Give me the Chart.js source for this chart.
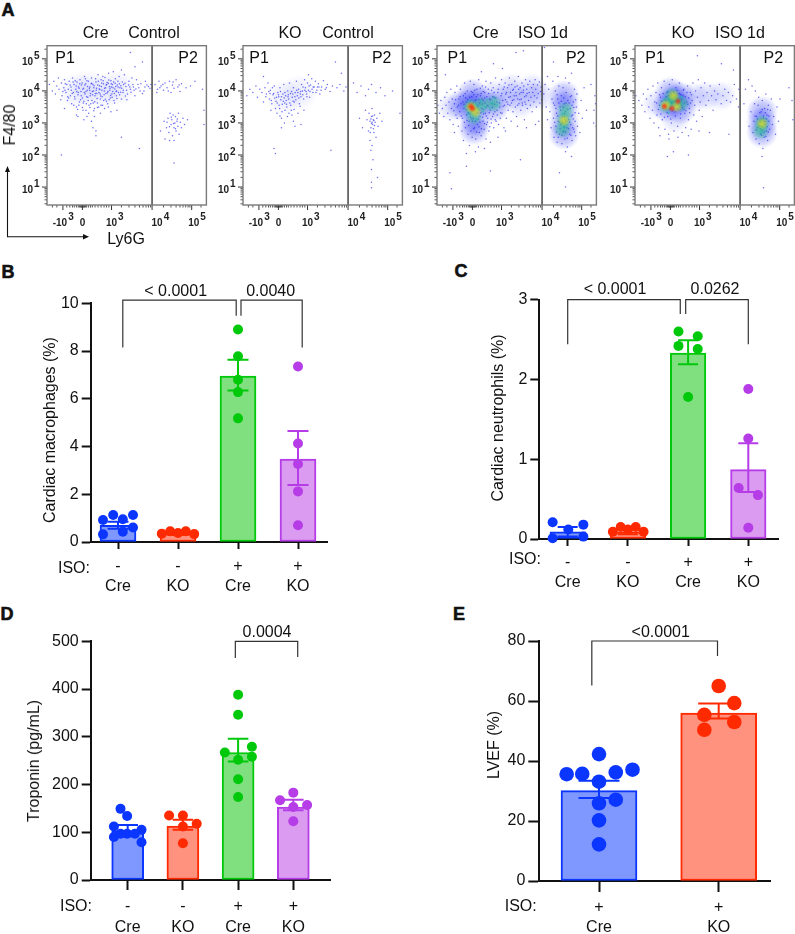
<!DOCTYPE html>
<html>
<head>
<meta charset="utf-8">
<title>Cardiac flow cytometry and bar panels</title>
<script src="https://cdn.jsdelivr.net/npm/chart.js@4"></script>
<style>
  html, body { margin: 0; padding: 0; background: #fff; }
  body { position: relative; width: 795px; height: 934px; overflow: hidden; font-family: "Liberation Sans", Arial, sans-serif; color: #111; }
  canvas { position: absolute; }
  .lbl { position: absolute; white-space: nowrap; line-height: 1; }
  svg { position: absolute; left: 0; top: 0; }
</style>
</head>
<body>
<svg width="100" height="245">
  <g stroke="#111" stroke-width="1.1" fill="#111">
    <line x1="7.5" y1="237" x2="7.5" y2="171" />
    <line x1="7" y1="236.7" x2="85" y2="236.7" />
    <path d="M7.5 166 L5 172 L10 172 Z" stroke="none" />
    <path d="M89 236.7 L83 234 L83 239.4 Z" stroke="none" />
  </g>
</svg>
<script>
// ── Bar panel data ───────────────────────────────────────────
const fourGroups = ['Cre', 'KO', 'Cre', 'KO']
const fourIso = ['-', '-', '+', '+']
const twoGroups = ['Cre', 'KO']
const twoIso = ['+', '+']

const macMeans = [0.7, 0.35, 6.95, 3.47]
const macHi = [0.85, 0.41, 7.63, 4.65]
const macLo = [0.55, 0.29, 6.35, 2.39]
const macDotX = [-0.25, -0.08, 0.08, 0.25, 0.25, 0.08, -0.25, -0.27, -0.13, 0, 0.13, 0.27, 0, 0, 0, 0, 0, 0, 0, 0, 0, 0]
const macDotY = [0.92, 1.13, 0.95, 1.13, 0.61, 0.43, 0.32, 0.35, 0.45, 0.38, 0.45, 0.33, 8.9, 7.78, 6.8, 6.28, 5.18, 7.35, 4.13, 3.27, 2.12, 0.7]
const macDotGroup = [0, 0, 0, 0, 0, 0, 0, 1, 1, 1, 1, 1, 2, 2, 2, 2, 2, 3, 3, 3, 3, 3]

const neuMeans = [0.09, 0.09, 2.33, 0.87]
const neuHi = [0.15, 0.13, 2.49, 1.2]
const neuLo = [0.03, 0.06, 2.19, 0.59]
const neuDotX = [-0.25, 0.26, 0.01, -0.25, 0.26, -0.25, -0.12, 0, 0.13, 0.26, -0.16, 0.16, -0.16, 0.16, 0, 0, 0, -0.16, 0.16, 0]
const neuDotY = [0.21, 0.18, 0.12, 0.01, 0.03, 0.09, 0.15, 0.12, 0.15, 0.09, 2.6, 2.54, 2.42, 2.38, 1.78, 1.88, 1.26, 0.64, 0.55, 0.14]
const neuDotGroup = [0, 0, 0, 0, 0, 1, 1, 1, 1, 1, 2, 2, 2, 2, 2, 3, 3, 3, 3, 3]

const tropMeans = [103, 113, 267, 153]
const tropHi = [115, 126, 296, 168]
const tropLo = [92, 105, 248, 146]
const tropDotX = [-0.13, -0.01, -0.25, 0.25, -0.25, -0.13, -0.01, 0.13, 0.25, -0.25, 0, 0.25, 0, 0, 0, 0, -0.24, 0.25, 0.25, 0, 0, 0, 0, -0.24, 0.25, 0, 0]
const tropDotY = [149, 134, 112, 105, 90, 97, 97, 97, 79, 135, 135, 118, 112, 77, 388, 346, 267, 279, 258, 252, 211, 174, 183, 167, 157, 153, 123]
const tropDotGroup = [0, 0, 0, 0, 0, 0, 0, 0, 0, 1, 1, 1, 1, 1, 2, 2, 2, 2, 2, 2, 2, 2, 3, 3, 3, 3, 3]

const lvefMeans = [30.1, 56]
const lvefHi = [33.4, 59.2]
const lvefLo = [27.7, 54.2]
const lvefDotX = [0, -0.27, -0.14, 0.14, 0.28, 0, 0.14, 0, 0, 0, 0, 0.13, -0.12, 0.13, -0.12]
const lvefDotY = [42.3, 35.6, 35.7, 36.2, 37.1, 33.1, 27.1, 25.9, 20.2, 12.2, 65, 59.3, 55.4, 53, 50.4]
const lvefDotGroup = [0, 0, 0, 0, 0, 0, 0, 0, 0, 0, 1, 1, 1, 1, 1]

const blue = { line: '#0a36ff', fill: '#7f98ff' }
const red = { line: '#ff2a00', fill: '#ff917f' }
const green = { line: '#00c80a', fill: '#80e080' }
const purple = { line: '#b53ce6', fill: '#da9bf0' }

// ── Flow plot data ───────────────────────────────────────────
// x is the biexponential Ly6G position (0 = zero, 0.97 = 10^3, 2.32 = 10^4, 3.64 = 10^5)
// y is log10(F4/80). Dots and patches are hand placed to follow the visible clouds.
const flowXMajor = [-0.65, 0, 0.97, 2.32, 3.64]
const flowXLabels = ['3', '', '3', '4', '5']
const flowXLabelShift = [0, 0, 3, 8, 5]
const flowXMinor = [-1, -0.85, -0.52, -0.42, -0.33, -0.27, -0.2, -0.14, -0.1, -0.07, -0.05, -0.03, -0.015, 0.015, 0.03, 0.05, 0.07, 0.1, 0.14, 0.2, 0.27, 0.33, 0.42, 0.52, 0.62, 0.72, 0.8, 0.88, 1.3, 1.55, 1.75, 1.9, 2.02, 2.12, 2.2, 2.27, 2.7, 2.95, 3.12, 3.25, 3.35, 3.44, 3.52, 3.58, 3.95]
const flowYMajor = [1, 2, 3, 4, 5]

const creControlDots = [
  -1.1,4.2, -1,4, -0.95,4.3, -0.9,3.9, -0.85,4.15, -0.8,4.4, -0.78,4.05, -0.7,4.25, -0.68,3.85, -0.62,4.1, -0.6,4.35, -0.55,3.95, -0.52,4.2, -0.5,3.7, -0.47,4.05, -0.44,4.3, -0.4,3.85, -0.38,4.12, -0.36,3.6, -0.33,4.4,
  -0.3,3.95, -0.28,4.2, -0.25,3.75, -0.22,4.05, -0.2,3.5, -0.18,4.28, -0.15,3.88, -0.13,4.12, -0.1,3.65, -0.08,4.35, -0.05,3.98, -0.03,4.18, 0,3.78, 0.02,3.4, 0.04,4.08, 0.07,4.45, 0.09,3.9, 0.11,4.22, 0.13,3.6, 0.16,4.02,
  0.18,3.8, 0.2,4.3, 0.22,3.55, 0.25,4.12, 0.27,3.92, 0.3,4.4, 0.32,3.7, 0.35,4.2, 0.37,4, 0.4,3.45, 0.42,3.85, 0.45,4.28, 0.47,4.08, 0.5,3.62, 0.52,4.5, 0.55,3.95, 0.57,4.16, 0.6,3.75, 0.62,4.35, 0.65,4.02,
  0.67,3.55, 0.7,4.22, 0.72,3.88, 0.75,4.42, 0.77,4.1, 0.8,3.68, 0.82,4.26, 0.85,3.98, 0.87,4.55, 0.9,4.14, 0.93,3.78, 0.95,4.32, 0.98,3.9, 1,4.2, 1.03,4.6, 1.05,3.7, 1.08,4.06, 1.1,4.38, 1.13,3.85, 1.16,4.18,
  1.2,3.95, 1.22,4.45, 1.25,4.1, 1.3,3.75, 1.33,4.28, 1.36,4.02, 1.4,4.5, 1.45,4.14, 1.5,3.9, 1.55,4.3, 1.6,4.05, 1.68,4.2, 1.75,3.85, 1.8,4.35, 1.88,4.1, 1.95,4.22, 2.05,4, 2.15,4.18, 2.25,4.08, -0.72,3.72,
  -0.58,4.02, -0.49,3.82, -0.41,4.18, -0.34,3.92, -0.29,3.55, -0.24,4.32, -0.19,3.98, -0.16,3.42, -0.11,4.08, -0.06,3.72, -0.01,4.25, 0.03,3.62, 0.06,3.95, 0.1,4.38, 0.14,3.82, 0.17,4.14, 0.21,3.3, 0.24,4.02, 0.28,3.6, 0.31,4.24,
  0.34,3.88, 0.38,4.1, 0.41,3.66, 0.44,4.38, 0.48,3.92, 0.51,4.18, 0.54,3.5, 0.58,4.04, 0.61,3.84, 0.64,4.25, 0.68,4.45, 0.71,3.7, 0.74,4.08, 0.78,3.92, 0.81,4.2, 0.84,3.6, 0.88,4.34, 0.91,4.02, 0.94,3.86, 0.97,4.12,
  1.01,3.98, 1.04,4.28, 1.07,3.62, 1.11,4.14, 1.14,4, 1.18,4.3, 1.24,3.88, 1.28,4.16, 1.35,3.95, 1.42,4.24, 1.48,3.72, 1.58,4.12, 1.65,4.4, 1.72,4.02, 1.85,4.2, 2,3.92, 2.1,4.3, 2.2,4.14, -0.15,3.2, 0.15,3.2,
  0.4,3.2, -0.6,3.45, 0.05,3.1, 0.3,3.05, 0.6,3.3, 0.95,3.35, 1.15,3.4, -0.2,3.25, 0.35,2.85, 0.45,2.75, 1.3,2.55, 0.45,2.6, 1.9,2.2, -0.7,2, 1.75,4.75, 2,4.9, 1.6,5.2, 1.3,4.65,
  2.42,4.2, 2.5,4.05, 2.55,4.3, 2.62,4.15, 2.7,4.02, 2.75,4.25, 2.82,4.1, 2.9,4.3, 2.95,3.95, 3,4.18, 3.05,4.08, 3.12,4.35, 3.18,4.12, 3.25,3.98, 3.3,4.22, 3.45,4.1, 3.6,4.15, 3.75,4.3, 4,4.05, 4.05,3.4,
  2.72,3.05, 2.8,2.85, 2.85,3.15, 2.88,2.7, 2.92,3.3, 2.95,2.95, 2.98,3.1, 3,2.6, 3.02,3.25, 3.05,2.85, 3.08,3, 3.1,3.2, 3.12,2.75, 3.15,3.05, 3.18,2.9, 3.2,3.3, 3.22,2.65, 3.26,3.02, 3.3,2.85, 3.35,3.15,
  2.75,2.5, 2.9,2.45, 3.05,2.45, 3.4,2.95, 3.5,3.1, 2.6,2.75, 3.05,1.75, 4.05,2.95
]
const creControlExtra = [
  -0.65,3.98, -0.57,4.22, -0.46,3.78, -0.37,4.02, -0.31,4.28, -0.26,3.82, -0.21,4.15, -0.14,3.95, -0.09,4.22, -0.04,3.85, 0.01,4.05, 0.05,3.68, 0.08,4.18, 0.12,3.98, 0.15,4.32, 0.19,3.7, 0.23,4.08, 0.26,3.85, 0.29,4.22, 0.33,3.98,
  0.36,3.62, 0.39,4.16, 0.43,3.92, 0.46,4.02, 0.49,3.76, 0.53,4.3, 0.56,4.06, 0.59,3.9, 0.63,4.14, 0.66,3.82, 0.69,4.32, 0.73,4, 0.76,3.74, 0.79,4.18, 0.83,3.94, 0.86,4.24, 0.89,3.72, 0.92,4.08, 0.96,4.22, 0.99,3.8,
  1.02,4.1, 1.06,3.92, 1.09,4.24, 1.12,3.98, 1.15,3.76, 1.19,4.12, 1.23,4.22, 1.27,3.96, 1.31,4.08, 1.37,4.2, 1.43,3.84, 1.47,4.02, 1.54,4.18, 1.62,3.96, 1.7,4.12, 1.78,4.06, 1.92,4, 2.08,4.12, 2.28,4.2, -0.12,3.55,
  0,3.48, 0.12,3.4, 0.25,3.48, 0.38,3.38, 0.5,3.48, 0.62,3.55, 0.74,3.45, 0.86,3.5, 2.48,3.95, 2.58,4.1, 2.68,4.2, 2.86,4, 3.02,4.28, 3.22,4.18, 2.82,3.02, 2.9,2.88, 2.96,3.18, 3.04,2.98, 3.1,2.82, 3.16,3.12
]
const creControlTint = [0.2,4.1, 0.7,4, -0.2,4, 1.2,4.1]

const koControlDots = [
  -1.05,3.85, -0.95,4.05, -0.85,3.95, -0.75,4.15, -0.7,3.8, -0.62,4.05, -0.55,3.95, -0.5,3.65, -0.45,4.1, -0.4,3.9, -0.35,4.25, -0.3,3.75, -0.27,4.02, -0.22,3.6, -0.18,3.88, -0.14,4.15, -0.1,3.45, -0.06,3.8, -0.02,3.95, 0.02,3.55,
  0.05,4.1, 0.08,3.72, 0.12,3.35, 0.15,3.9, 0.18,4.2, 0.21,3.62, 0.24,3.85, 0.28,3.5, 0.31,4, 0.34,3.75, 0.37,4.25, 0.4,3.92, 0.43,3.4, 0.46,3.8, 0.5,4.1, 0.53,3.65, 0.56,3.95, 0.6,4.3, 0.63,3.85, 0.67,4.05,
  0.7,3.6, 0.73,3.9, 0.77,4.2, 0.8,4, 0.84,3.75, 0.87,4.35, 0.9,4.1, 0.94,3.9, 0.97,4.25, 1,4.02, 1.04,3.8, 1.07,4.18, 1.11,4.38, 1.15,3.95, 1.19,4.12, 1.23,4.3, 1.28,4.02, 1.33,4.22, 1.38,3.9, 1.44,4.12,
  1.5,4.32, 1.56,4.05, 1.63,4.2, 1.72,3.98, 1.8,4.15, 1.95,4.1, 2.05,4.2, 2.18,4, 2.25,4.12, -0.28,3.92, -0.2,4.1, -0.12,3.78, -0.04,3.62, 0.01,3.82, 0.07,3.98, 0.13,3.58, 0.19,3.78, 0.26,3.7, 0.33,3.88, 0.41,3.55,
  0.48,3.9, 0.58,3.72, 0.65,3.95, 0.75,3.82, 0.82,4.12, 0.92,3.98, 1.02,4.15, 1.12,4.05, 1.25,3.95, 1.35,4.12, 0.1,3.15, 0.3,3.2, 0.2,3, 0.5,3.05, 0.45,3.25, -0.05,3.3, 0.65,3.3, 0.85,3.4, -0.25,3.4, 0.55,2.9,
  0.1,2.85, 0.75,2.95, -0.15,2.2, -0.1,2.05, 1.75,2.15, 1.9,4.9, 2.1,4.55, 1,4.5, -0.5,4.45,
  2.5,4.25, 2.62,3.95, 2.75,4.15, 2.9,3.85, 3,4.05, 3.1,4.2, 3.25,3.95, 3.4,4.1, 3.55,3.85, 3.8,4, 4.05,3.3, 2.7,3.15, 2.8,2.85, 2.9,3.4, 2.95,3.1, 3,2.75, 3.02,3.3, 3.05,3.05, 3.08,2.85, 3.1,3.2,
  3.12,3.45, 3.14,2.95, 3.16,3.1, 3.18,2.7, 3.2,3.25, 3.22,3.02, 3.25,2.55, 3.28,3.15, 3.32,2.9, 3.38,3.3, 3.45,3.05, 3.05,2.45, 3.12,2.3, 3.08,2.15, 3.15,1.85, 3.1,1.55, 3.3,1.3, 3.1,1.15, 3.1,0.98
]
const koControlExtra = [
  -0.42,3.82, -0.32,3.98, -0.24,3.7, -0.16,3.92, -0.08,3.68, 0,3.88, 0.04,3.45, 0.1,3.82, 0.16,3.68, 0.22,3.95, 0.27,3.58, 0.32,3.82, 0.38,3.62, 0.44,3.98, 0.49,3.68, 0.55,3.82, 0.61,4.02, 0.68,3.78, 0.74,3.98, 0.81,3.88,
  0.88,4.02, 0.95,3.82, 1.05,3.98, 1.16,4.12, 1.3,4.12, 1.42,4.02, 1.6,4.1, 0.22,3.4, 0.35,3.3, 0.52,3.42, 0.72,3.52, 0.05,3.22, 3.08,3.12, 3.12,3.02, 3.16,2.82, 3.1,2.98, 3.14,3.22, 3.18,3.08, 3.06,2.7, 3.2,2.92
]
const koControlTint = [0.2,3.8, 0.7,3.95]

const creIsoDots = [
  -1.15,3.55, -1.1,3.3, -1.05,3.7, -1,3.45, -0.95,3.2, -0.92,3.8, -0.88,3.55, -0.85,3.95, -0.82,3.3, -0.78,3.65, -0.75,3.1, -0.72,4.05, -0.7,3.45, -0.67,3.75, -0.64,2.95, -0.6,3.6, -0.58,3.95, -0.55,3.25, -0.52,4.15, -0.5,3.5,
  -0.47,2.9, -0.45,3.75, -0.42,3.35, -0.4,4.05, -0.38,3.6, -0.35,2.75, -0.33,3.15, -0.3,3.85, -0.28,3.45, -0.26,4.25, -0.23,2.85, -0.21,3.65, -0.19,3.25, -0.17,4, -0.15,2.65, -0.13,3.5, -0.11,3.05, -0.09,3.8, -0.07,4.3, -0.05,2.75,
  -0.03,3.35, -0.01,2.55, 0.01,3.95, 0.03,3.15, 0.05,4.2, 0.07,2.85, 0.09,3.7, 0.11,2.5, 0.13,3.3, 0.15,4.05, 0.17,2.95, 0.19,3.55, 0.21,4.35, 0.23,2.7, 0.25,3.2, 0.27,3.85, 0.29,2.6, 0.31,3.45, 0.33,4.15, 0.35,3.05,
  0.37,3.7, 0.39,2.8, 0.41,3.95, 0.43,3.3, 0.45,4.3, 0.47,2.95, 0.49,3.55, 0.51,3.15, 0.53,4.05, 0.55,2.75, 0.57,3.75, 0.59,3.4, 0.61,4.25, 0.63,3, 0.65,3.6, 0.67,3.2, 0.69,4.1, 0.71,2.85, 0.73,3.8, 0.75,3.35,
  0.77,4.4, 0.79,3.05, 0.81,3.65, 0.83,3.25, 0.85,3.95, 0.87,2.95, 0.89,4.2, 0.91,3.5, 0.93,3.15, 0.95,3.85, 0.97,4.35, 0.99,3.3, 1.01,3.7, 1.03,4.05, 1.05,2.85, 1.07,3.55, 1.09,4.25, 1.11,3.9, 1.13,3.15, 1.15,3.65,
  1.17,4.1, 1.19,3.4, 1.21,3.8, 1.23,4.4, 1.25,3.55, 1.27,3.95, 1.29,3.05, 1.31,4.2, 1.33,3.7, 1.35,3.35, 1.37,4.05, 1.39,3.85, 1.41,4.3, 1.43,3.5, 1.45,3.95, 1.47,3.2, 1.49,4.15, 1.51,3.75, 1.53,4.45, 1.55,3.6,
  1.57,3.9, 1.59,4.1, 1.61,3.4, 1.63,3.75, 1.65,4.25, 1.67,3.55, 1.69,3.95, 1.71,4.15, 1.73,3.1, 1.75,3.65, 1.77,4.35, 1.79,3.85, 1.81,4.05, 1.83,3.45, 1.85,4.2, 1.87,3.7, 1.89,3.95, 1.91,4.3, 1.93,3.55, 1.95,3.8,
  1.97,4.1, 1.99,3.35, 2.01,3.95, 2.03,4.2, 2.05,3.65, 2.07,3.85, 2.09,4.35, 2.11,4.05, 2.13,3.5, 2.15,3.78, 2.17,4.18, 2.19,3.92, 2.21,3.05, 2.23,4.28, 2.25,3.62, 2.27,3.98, 2.29,4.12, 2.31,3.72,
  -0.1,2.3, 0.2,2.25, -0.3,2.45, 0.45,2.5, 0.6,2.4, 0.85,2.55, 0.1,2.1, -0.2,2.05, 0.4,2.2, 1.1,2.75, 1.5,2.9, 1.8,2.85, 2.1,2.95, -0.6,2.7, -0.75,1.45, -0.7,0.95, 0.6,1.5, -0.2,1.65, 1.6,1.85, -0.9,4.5, 0.3,4.6, 1,4.7, 0.7,4.85, 1.45,5.2, 1.7,5.25,
  2.38,3.9, 2.42,4.2, 2.46,3.5, 2.5,3.1, 2.54,4.05, 2.58,3.35, 2.62,2.85, 2.65,3.75, 2.68,4.3, 2.7,3.15, 2.72,2.55, 2.74,3.55, 2.76,4, 2.78,2.9, 2.8,3.3, 2.82,2.4, 2.84,3.75, 2.86,3.05, 2.88,4.15, 2.9,2.65,
  2.92,3.5, 2.94,2.95, 2.96,3.85, 2.98,2.35, 3,3.2, 3.02,4.1, 3.04,2.75, 3.06,3.6, 3.08,2.5, 3.1,3.35, 3.12,3.95, 3.14,2.85, 3.16,2.25, 3.18,3.7, 3.2,3.1, 3.22,4.25, 3.24,2.65, 3.26,3.45, 3.28,2.95, 3.3,3.85,
  3.32,2.45, 3.34,3.25, 3.36,3.65, 3.38,2.8, 3.4,4.05, 3.42,3.05, 3.44,2.6, 3.46,3.5, 3.48,3.9, 3.5,2.9, 3.54,3.3, 3.58,2.7, 3.62,3.7, 3.66,3.15, 3.72,4.1, 3.8,3.4, 3.1,2.1, 3.3,1.95, 2.9,1.45, 3.1,1,
  4.05,3.4, 4.08,3.85, 4.04,3, 4.1,3.6, 4.12,2.9, 3.95,4.2, 2.5,4.45, 2.85,4.45, 3.1,4.4, 3.3,4.55, 2.4,5.35, 2.7,4.9
]
const creIsoCore = [
  -0.62,3.38, -0.56,3.72, -0.51,3.15, -0.46,3.55, -0.41,3.82, -0.37,3.22, -0.32,3.65, -0.27,3.02, -0.24,3.92, -0.2,3.42, -0.16,3.72, -0.12,2.92, -0.08,3.28, -0.04,3.98, -0.02,3.12, 0.02,3.62, 0.04,2.82, 0.06,3.42, 0.08,4.02, 0.1,3.05,
  0.12,3.72, 0.14,2.72, 0.16,3.48, 0.18,3.88, 0.2,3.12, 0.22,2.88, 0.24,3.62, 0.26,4.08, 0.28,3.32, 0.3,2.82, 0.32,3.75, 0.34,3.18, 0.36,3.98, 0.38,3.42, 0.4,2.98, 0.42,3.62, 0.44,4.12, 0.46,3.22, 0.48,3.82, 0.5,3.02,
  0.52,3.52, 0.54,3.92, 0.56,3.32, 0.58,2.88, 0.6,3.72, 0.62,3.12, 0.64,4.02, 0.66,3.48, 0.68,3.82, 0.7,3.28, 0.72,3.95, 0.74,3.58, 0.76,3.1, 0.78,3.78, 0.82,3.4, 0.86,4.05, 0.9,3.62, 0.94,3.32, 0.98,3.92, 1.02,3.52,
  1.06,4.12, 1.1,3.72, 1.14,3.95, 1.18,3.58, 1.22,4.18, 1.26,3.82, 1.3,3.62, 1.34,4.02, 1.38,3.72, 1.42,4.12, 1.46,3.85, 1.5,3.55, 1.54,4.05, 1.58,3.72, 1.62,3.95, 1.66,3.62, 1.7,4.02, 1.74,3.82, 1.78,3.58, 1.82,3.92,
  -0.28,3.58, -0.22,3.78, -0.18,3.08, -0.14,3.32, -0.1,3.62, -0.06,3.18, -0.02,3.82, 0,3.05, 0.03,3.52, 0.05,3.88, 0.09,3.38, 0.13,3.82, 0.17,3.32, 0.21,3.72, 0.25,3.02, 0.29,3.92, 0.33,3.58, 0.37,3.28, 0.41,3.78, 0.45,3.48,
  2.7,3.62, 2.74,3.02, 2.78,3.45, 2.8,2.72, 2.82,3.88, 2.84,3.22, 2.86,2.55, 2.88,3.62, 2.9,3.02, 2.92,2.82, 2.94,3.4, 2.96,3.68, 2.98,2.62, 3,3.02, 3.02,3.5, 3.04,3.78, 3.06,2.88, 3.08,3.2, 3.1,2.72, 3.12,3.62,
  3.14,3.05, 3.16,2.52, 3.18,3.42, 3.2,2.82, 3.22,3.62, 3.24,3.02, 3.26,3.82, 3.28,2.62, 3.3,3.22, 3.32,3.55, 3.34,2.85, 3.36,3.12, 3.38,3.48, 3.4,2.72, 3.42,3.32, 3.44,3.72, 2.98,2.98, 3.02,2.72, 3.06,3.28, 3.1,3.05
]
const creIsoMid = [
  -0.22,3.52, -0.15,3.28, -0.08,3.68, 0.02,3.25, 0.08,3.58, 0.15,3.12, 0.22,3.42, 0.28,3.68, 0.35,3.35, 0.42,3.5, 0.5,3.72, 0.58,3.45, 0.66,3.62, 0.74,3.78, 0.82,3.55, 2.96,3.02, 3,3.28, 3.04,2.85, 3.08,3.12, 3.12,2.95
]
const creIsoBlue = [-0.1,3.55, 0.3,3.65, 0.7,3.5, 0.1,3.05, -0.35,3.55, 0,3.9, 0.05,2.8, 3.05,3.5, 3.05,3, 3.05,2.65, 3.05,3.85]
const creIsoBand = [1,3.75, 1.4,3.85, 1.9,3.85, 2.25,3.85, 0.7,3.9, 1.3,4.1, 2,4.1, 1.6,3.6, -0.7,3.5]
const creIsoGreen = [-0.05,3.5, 0.3,3.55, 0.05,3.2, 0.7,3.6, 3.05,3.1, 3,2.8, 3.1,3.4]
const creIsoYellow = [-0.05,3.5, 0.1,3.35, 3.05,3.08]
const creIsoRed = [-0.05,3.52, 0,3.45]

const koIsoDots = [
  -1.15,3.85, -1.05,3.7, -0.95,3.55, -0.9,3.9, -0.85,3.35, -0.8,3.75, -0.75,4.05, -0.72,3.5, -0.68,3.15, -0.65,3.85, -0.6,3.4, -0.58,4.15, -0.55,3, -0.52,3.65, -0.48,3.95, -0.45,3.25, -0.42,4.25, -0.39,2.85, -0.36,3.55, -0.33,3.8,
  -0.3,4.1, -0.27,3.1, -0.24,3.45, -0.21,4.3, -0.18,2.8, -0.15,3.7, -0.12,3.95, -0.09,3.2, -0.06,2.65, -0.03,4.2, 0,3.5, 0.03,3, 0.06,4.35, 0.09,3.8, 0.12,2.75, 0.15,3.35, 0.18,4.1, 0.21,3.6, 0.24,2.9, 0.27,3.9,
  0.3,4.25, 0.33,3.15, 0.36,3.55, 0.39,2.7, 0.42,3.85, 0.45,4.05, 0.48,3.3, 0.51,2.85, 0.54,3.65, 0.57,4.15, 0.6,3.1, 0.63,3.45, 0.66,3.95, 0.69,2.8, 0.72,3.7, 0.75,4.25, 0.78,3.25, 0.81,3.55, 0.84,4, 0.87,3.05,
  0.9,3.8, 0.93,4.35, 0.96,3.4, 0.99,3.65, 1.02,4.1, 1.06,3.2, 1.1,3.85, 1.14,4.25, 1.18,3.55, 1.22,3.95, 1.27,3.7, 1.32,4.15, 1.37,3.85, 1.42,3.4, 1.47,4, 1.52,3.72, 1.58,3.9, 1.63,4.2, 1.69,3.6, 1.75,3.85,
  1.81,4.05, 1.87,3.7, 1.93,3.95, 2,3.65, 2.07,3.85, 2.13,4.2, 2.2,3.75, 2.27,3.5, 2.28,4.05, -0.05,2.5, 0.25,2.55, 0.6,2.6, -0.35,2.6, 1.95,2.65, 1.3,2.7, 0.95,2.75, 0.1,2.1, -0.1,1.95, 0.6,2, 1.7,4.85, 0.9,5.1, 2.1,4.65,
  2.45,3.6, 2.5,4.05, 2.6,4.35, 2.62,2.9, 2.68,3.35, 2.72,4.15, 2.75,2.7, 2.78,3.05, 2.8,3.6, 2.83,4, 2.85,2.5, 2.87,3.2, 2.9,2.85, 2.92,3.55, 2.94,3.8, 2.96,2.35, 2.98,3.05, 3,2.65, 3.02,3.35, 3.04,2.9,
  3.06,3.7, 3.08,2.2, 3.1,3.15, 3.12,2.55, 3.14,3.45, 3.16,2.95, 3.18,3.9, 3.2,2.75, 3.22,3.25, 3.24,2.45, 3.26,3.55, 3.28,3.05, 3.3,2.8, 3.33,3.4, 3.36,3.75, 3.4,2.95, 3.44,3.2, 3.5,2.65, 3.55,3.5, 3.6,3.05,
  3.65,3.75, 3.05,1.95, 3.1,0.98, 4.05,3.7, 4.08,3.1, 3.95,4.1
]
const koIsoCore = [
  -0.46,3.62, -0.4,3.42, -0.36,3.88, -0.32,3.28, -0.28,3.68, -0.24,3.92, -0.2,3.18, -0.17,3.58, -0.14,3.82, -0.11,3.32, -0.08,3.98, -0.05,3.45, -0.02,3.72, 0.01,3.12, 0.04,3.88, 0.07,3.38, 0.1,3.98, 0.13,3.55, 0.16,3.22, 0.19,3.78,
  0.22,4.02, 0.25,3.42, 0.28,3.68, 0.31,3.92, 0.34,3.28, 0.37,3.72, 0.4,3.48, 0.43,4.02, 0.46,3.62, 0.49,3.82, 0.52,3.38, 0.55,3.95, 0.58,3.58, 0.61,3.78, 0.64,3.32, 0.67,3.62, 0.7,3.88, -0.25,3.52, -0.15,3.42, -0.05,3.85,
  0.05,3.62, 0.15,3.82, 0.25,3.58, 0.35,3.88, 0.45,3.42, 2.82,3.22, 2.86,2.78, 2.9,3.12, 2.94,2.92, 2.98,3.32, 3,2.82, 3.02,3.12, 3.04,2.62, 3.06,3.42, 3.08,2.88, 3.1,3.22, 3.12,2.72, 3.14,3.05, 3.16,3.32, 3.18,2.58, 3.2,3.12,
  3.22,2.88, 3.24,3.42, 3.26,2.72, 3.28,3.22, 2.98,2.88, 3.02,3.02, 3.06,2.78, 3.1,3.02
]
const koIsoMid = [
  -0.2,3.72, -0.12,3.48, -0.03,3.62, 0.06,3.78, 0.14,3.42, 0.22,3.7, 0.3,3.5, 0.38,3.82, 0.12,3.92, -0.06,3.3, 3,3.08, 3.04,2.92, 3.08,3.1, 3.02,2.7
]
const koIsoBlue = [0.1,3.7, -0.1,3.5, 0.35,3.8, 0.35,3.45, 0,3.95, 3.05,3, 3.05,2.7, 3.05,3.35]
const koIsoBand = [0.8,3.8, 1.2,3.85, 1.7,3.85, -0.45,3.6, 0.15,3.15]
const koIsoGreen = [0.1,3.65, -0.15,3.55, 0.35,3.6, 0.05,3.85, 3.05,3, 3,2.75]
const koIsoYellow = [-0.15,3.55, 0.2,3.5, 0.1,3.85, 3.05,2.98]
const koIsoRed = [-0.2,3.52, 0.25,3.68, 0.05,3.45]

// ── Helpers ──────────────────────────────────────────────────
const sansFont = '"Liberation Sans", Arial, sans-serif'

function pairs(flat) {
  const out = []
  for (let i = 0; i < flat.length; i += 2) out.push({ x: flat[i], y: flat[i + 1] })
  return out
}

function mount(left, top, width, height) {
  const c = document.createElement('canvas')
  c.width = width
  c.height = height
  c.style.left = left + 'px'
  c.style.top = top + 'px'
  document.body.appendChild(c)
  return c
}

function softBlob(rgb, size, alpha) {
  const c = document.createElement('canvas')
  c.width = c.height = size
  const g = c.getContext('2d')
  const grad = g.createRadialGradient(size / 2, size / 2, 0, size / 2, size / 2, size / 2)
  grad.addColorStop(0, `rgba(${rgb},${alpha})`)
  grad.addColorStop(0.6, `rgba(${rgb},${alpha * 0.55})`)
  grad.addColorStop(1, `rgba(${rgb},0)`)
  g.fillStyle = grad
  g.fillRect(0, 0, size, size)
  return c
}

function label(text, x, y, size, opts = {}) {
  const el = document.createElement('div')
  el.className = 'lbl'
  el.textContent = text
  el.style.left = x + 'px'
  el.style.top = y + 'px'
  el.style.fontSize = size + 'px'
  if (opts.weight) {
    el.style.fontWeight = opts.weight
    el.style.webkitTextStroke = '0.6px #111'
  }
  el.style.transform = `translate(-50%,-50%)${opts.rot ? ` rotate(${opts.rot}deg)` : ''}`
  document.body.appendChild(el)
}

// ── Flow plots ───────────────────────────────────────────────
const flowFrame = {
  id: 'flowFrame',
  afterDraw(chart) {
    const { ctx, chartArea: a, scales: { x, y } } = chart
    ctx.save()
    ctx.strokeStyle = '#555'
    ctx.lineWidth = 1
    for (const v of flowXMinor) {
      const px = x.getPixelForValue(v)
      ctx.beginPath(); ctx.moveTo(px, a.bottom); ctx.lineTo(px, a.bottom + 2.5); ctx.stroke()
    }
    for (let dec = 1; dec <= 6; dec++) {
      for (let k = 2; k <= 9; k++) {
        const py = y.getPixelForValue(dec - 1 + Math.log10(k))
        if (py < a.top || py > a.bottom) continue
        ctx.beginPath(); ctx.moveTo(a.left, py); ctx.lineTo(a.left - 2.5, py); ctx.stroke()
      }
    }
    ctx.strokeStyle = '#333'
    ctx.fillStyle = '#222'
    flowXMajor.forEach((v, i) => {
      const px = x.getPixelForValue(v)
      ctx.beginPath(); ctx.moveTo(px, a.bottom); ctx.lineTo(px, a.bottom + 5); ctx.stroke()
      const sup = flowXLabels[i]
      const base = v < 0 ? '-10' : v === 0 ? '0' : '10'
      ctx.font = `bold 10px ${sansFont}`
      const w = ctx.measureText(base).width
      const cx = px + flowXLabelShift[i]
      const start = cx - (w + (sup ? 6 : 0)) / 2
      ctx.textAlign = 'left'
      ctx.textBaseline = 'middle'
      ctx.fillText(base, start, a.bottom + 18)
      if (sup) {
        ctx.font = `bold 10px ${sansFont}`
        ctx.fillText(sup, start + w + 1, a.bottom + 12)
      }
    })
    flowYMajor.forEach((v) => {
      const py = y.getPixelForValue(v)
      ctx.beginPath(); ctx.moveTo(a.left, py); ctx.lineTo(a.left - 5, py); ctx.stroke()
      ctx.font = `bold 10px ${sansFont}`
      ctx.textAlign = 'right'
      ctx.textBaseline = 'middle'
      ctx.fillText('10', a.left - 14, py + 3)
      ctx.textAlign = 'left'
      ctx.fillText(String(v), a.left - 13, py - 3)
    })
    // gate and frame
    ctx.strokeStyle = '#3a3a3a'
    ctx.lineWidth = 1.4
    const gx = x.getPixelForValue(2.32)
    ctx.beginPath(); ctx.moveTo(gx, a.top); ctx.lineTo(gx, a.bottom); ctx.stroke()
    ctx.strokeStyle = '#7a7a7a'
    ctx.strokeRect(a.left, a.top, a.right - a.left, a.bottom - a.top)
    ctx.restore()
  },
}

function flowPlot(frameLeft, dots, layers) {
  const canvasLeft = Math.max(frameLeft - 32, 0)
  const canvas = mount(canvasLeft, 40, Math.floor(Math.min(795 - canvasLeft, 194)), 195)
  const frameWidth = 159.4
  const blobSets = layers.map((l) => (l.color
    ? { data: pairs(l.points), pointRadius: 0.8, pointBorderWidth: 0, borderWidth: 0, backgroundColor: l.color, under: false }
    : {
        data: pairs(l.points),
        pointStyle: softBlob(l.rgb, l.size, l.alpha),
        pointRadius: l.size / 2,
        clip: false,
        under: l.under,
      }))
  new Chart(canvas, {
    type: 'scatter',
    data: {
      datasets: [
        ...blobSets.filter((b) => b.under),
        { data: pairs(dots), pointRadius: 0.75, pointBorderWidth: 0, borderWidth: 0, backgroundColor: 'rgba(25,30,235,0.65)' },
        ...blobSets.filter((b) => !b.under),
      ].map((d, i) => ({ ...d, order: -i })),
    },
    options: {
      responsive: false,
      animation: false,
      events: [],
      layout: {
        autoPadding: false,
        padding: { left: frameLeft - canvasLeft, top: 5.7, right: canvas.width - (frameLeft - canvasLeft) - frameWidth, bottom: 30 },
      },
      plugins: { legend: { display: false }, tooltip: { enabled: false } },
      scales: {
        x: { type: 'linear', display: false, min: -1.18, max: 4.13 },
        y: { type: 'linear', display: false, min: 0.44, max: 5.41 },
      },
    },
    plugins: [flowFrame],
  })
}

const tint = (points) => ({ points, rgb: '90,100,250', size: 36, alpha: 0.13, under: true })
const bandPatch = (points) => ({ points, rgb: '90,100,250', size: 30, alpha: 0.24, under: true })
const bluePatch = (points) => ({ points, rgb: '30,40,245', size: 32, alpha: 0.4, under: true })
const midSpecks = (points) => ({ points, color: 'rgba(20,190,170,0.9)' })
const greenPatch = (points) => ({ points, rgb: '40,210,120', size: 18, alpha: 0.6 })
const yellowPatch = (points) => ({ points, rgb: '235,220,30', size: 12, alpha: 0.8 })
const redPatch = (points) => ({ points, rgb: '250,50,20', size: 7, alpha: 0.9 })

flowPlot(47.3, creControlDots.concat(creControlExtra), [tint(creControlTint)])
flowPlot(243.3, koControlDots.concat(koControlExtra), [tint(koControlTint)])
flowPlot(437.3, creIsoDots.concat(creIsoCore), [bandPatch(creIsoBand), bluePatch(creIsoBlue), greenPatch(creIsoGreen), midSpecks(creIsoMid), yellowPatch(creIsoYellow), redPatch(creIsoRed)])
flowPlot(635, koIsoDots.concat(koIsoCore), [bandPatch(koIsoBand), bluePatch(koIsoBlue), greenPatch(koIsoGreen), midSpecks(koIsoMid), yellowPatch(koIsoYellow), redPatch(koIsoRed)])

// ── Bar panels ───────────────────────────────────────────────
const barOverlay = {
  id: 'barOverlay',
  afterDatasetsDraw(chart, _args, opts) {
    const { ctx, scales: { x, y } } = chart
    ctx.save()
    opts.hi.forEach((hi, i) => {
      const px = x.getPixelForValue(i)
      const top = y.getPixelForValue(hi)
      const bot = y.getPixelForValue(opts.lo[i])
      ctx.strokeStyle = opts.colors[i].line
      ctx.lineWidth = 2
      ctx.beginPath()
      ctx.moveTo(px, top); ctx.lineTo(px, bot)
      ctx.moveTo(px - opts.cap, top); ctx.lineTo(px + opts.cap, top)
      ctx.moveTo(px - opts.cap, bot); ctx.lineTo(px + opts.cap, bot)
      ctx.stroke()
    })
    ctx.strokeStyle = '#333'
    ctx.lineWidth = 1.2
    for (const b of opts.brackets) {
      ctx.beginPath()
      ctx.moveTo(x.getPixelForValue(b[0]), y.getPixelForValue(b[1]))
      ctx.lineTo(x.getPixelForValue(b[0]), y.getPixelForValue(b[4]))
      ctx.lineTo(x.getPixelForValue(b[2]), y.getPixelForValue(b[4]))
      ctx.lineTo(x.getPixelForValue(b[2]), y.getPixelForValue(b[3]))
      ctx.stroke()
    }
    ctx.restore()
  },
}

function barPanel(cfg) {
  const canvas = mount(cfg.left, cfg.top, cfg.axisEnd - cfg.left + 1, cfg.bottom - cfg.top + cfg.xHeight)
  const pxPerUnit = (cfg.x1 - cfg.x0) / (cfg.tickX1 - cfg.tickX0)
  const uAt = (px) => (px - cfg.x0) / pxPerUnit
  new Chart(canvas, {
    data: {
      datasets: [
        {
          type: 'bar',
          data: cfg.means.map((v, i) => ({ x: i, y: v })),
          backgroundColor: cfg.colors.map((c) => c.fill),
          borderColor: cfg.colors.map((c) => c.line),
          borderWidth: 2,
          borderSkipped: false,
          barThickness: cfg.barWidth,
          order: 2,
        },
        {
          type: 'scatter',
          data: cfg.dotX.map((dx, i) => ({ x: cfg.dotGroup[i] + dx, y: cfg.dotY[i] })),
          pointRadius: cfg.dotRadius,
          pointBorderWidth: 0,
          pointBackgroundColor: cfg.dotGroup.map((g) => cfg.colors[g].line),
          clip: false,
          order: 1,
        },
      ],
    },
    options: {
      responsive: false,
      animation: false,
      events: [],
      layout: { autoPadding: false, padding: { top: cfg.chartTop - cfg.top, right: 1, left: 0, bottom: 0 } },
      plugins: {
        legend: { display: false },
        tooltip: { enabled: false },
        barOverlay: { hi: cfg.hi, lo: cfg.lo, colors: cfg.colors, cap: cfg.cap, brackets: cfg.brackets },
      },
      scales: {
        x: {
          type: 'linear',
          offset: false,
          min: uAt(cfg.axisX),
          max: uAt(cfg.axisEnd),
          afterFit: (s) => { s.height = cfg.xHeight },
          afterBuildTicks: (s) => { s.ticks = cfg.groups.map((_g, i) => ({ value: i })) },
          grid: { offset: false, drawOnChartArea: false, tickLength: cfg.xTick, tickColor: '#111', tickWidth: 2 },
          border: { color: '#111', width: 2 },
          ticks: {
            color: '#111',
            padding: cfg.xPad,
            maxRotation: 0,
            autoSkip: false,
            font: { family: sansFont, size: 16, lineHeight: cfg.xLine / 16 },
            callback: (v) => [cfg.iso[v], cfg.groups[v]],
          },
        },
        y: {
          type: 'linear',
          min: 0,
          max: cfg.yMax,
          afterFit: (s) => { s.width = cfg.axisX - cfg.left },
          grid: { drawOnChartArea: false, tickLength: cfg.yTick, tickColor: '#111', tickWidth: 2 },
          border: { color: '#111', width: 2 },
          ticks: { color: '#111', padding: 3, stepSize: cfg.yStep, font: { family: sansFont, size: 16 } },
        },
      },
    },
    plugins: [barOverlay],
  })
}

const fourColors = [blue, red, green, purple]

barPanel({
  left: 40, top: 290, chartTop: 303.3, bottom: 542, xHeight: 60, axisX: 90.7, axisEnd: 327,
  x0: 118, x1: 298, tickX0: 0, tickX1: 3, barWidth: 36, dotRadius: 5, cap: 10.5,
  yMax: 10, yStep: 2, xTick: 7, yTick: 9, xPad: 8, xLine: 19.7,
  groups: fourGroups, iso: fourIso, colors: fourColors, means: macMeans, hi: macHi, lo: macLo,
  dotX: macDotX, dotY: macDotY, dotGroup: macDotGroup,
  brackets: [[0.08, 8.15, 1.97, 9.48, 10.13], [2.05, 9.48, 3.07, 8.15, 10.13]],
})

barPanel({
  left: 500, top: 287, chartTop: 299.3, bottom: 539, xHeight: 60, axisX: 539.3, axisEnd: 778,
  x0: 567.7, x1: 748.3, tickX0: 0, tickX1: 3, barWidth: 35.5, dotRadius: 5, cap: 10,
  yMax: 3, yStep: 1, xTick: 7, yTick: 9, xPad: 7, xLine: 20,
  groups: fourGroups, iso: fourIso, colors: fourColors, means: neuMeans, hi: neuHi, lo: neuLo,
  dotX: neuDotX, dotY: neuDotY, dotGroup: neuDotGroup,
  brackets: [[0, 2.44, 1.87, 2.82, 3], [1.96, 2.82, 3, 2.44, 3]],
})

barPanel({
  left: 40, top: 628, chartTop: 641.3, bottom: 880.3, xHeight: 54, axisX: 90.7, axisEnd: 330,
  x0: 127.7, x1: 293.3, tickX0: 0, tickX1: 3, barWidth: 32, dotRadius: 5, cap: 10.3,
  yMax: 500, yStep: 100, xTick: 10, yTick: 9, xPad: 6, xLine: 21,
  groups: fourGroups, iso: fourIso, colors: fourColors, means: tropMeans, hi: tropHi, lo: tropLo,
  dotX: tropDotX, dotY: tropDotY, dotGroup: tropDotGroup,
  brackets: [[1.95, 465, 3.08, 467, 500]],
})

barPanel({
  left: 500, top: 628, chartTop: 641, bottom: 881, xHeight: 53, axisX: 539.3, axisEnd: 770,
  x0: 599, x1: 718.7, tickX0: 0, tickX1: 1, barWidth: 76, dotRadius: 7.3, cap: 20.5,
  yMax: 80, yStep: 20, xTick: 11, yTick: 11, xPad: 5, xLine: 20.5,
  groups: twoGroups, iso: twoIso, colors: [blue, red], means: lvefMeans, hi: lvefHi, lo: lvefLo,
  dotX: lvefDotX, dotY: lvefDotY, dotGroup: lvefDotGroup,
  brackets: [[-0.06, 65.2, 0.99, 75, 80]],
})

// ── Text ─────────────────────────────────────────────────────
label('A', 8, 10, 18, { weight: 900 })
label('B', 8, 272, 18, { weight: 900 })
label('C', 461, 271, 18, { weight: 900 })
label('D', 7, 614, 18, { weight: 900 })
label('E', 459, 614, 18, { weight: 900 })

label('Cre', 95.7, 33, 16); label('Control', 154, 33, 16)
label('KO', 290, 33, 16); label('Control', 348, 33, 16)
label('Cre', 485.7, 33, 16); label('ISO 1d', 543, 33, 16)
label('KO', 683, 33, 16); label('ISO 1d', 740, 33, 16)

label('P1', 65, 58, 16); label('P2', 188, 58, 16)
label('P1', 259, 58, 16); label('P2', 381.7, 58, 16)
label('P1', 457.3, 58, 16); label('P2', 575.7, 58, 16)
label('P1', 655, 58, 16); label('P2', 773.3, 58, 16)

label('F4/80', 9.5, 125, 16, { rot: -90 })
label('Ly6G', 126, 239, 16)

label('Cardiac macrophages (%)', 50, 430, 16, { rot: -90 })
label('Cardiac neutrophils (%)', 498.3, 418, 16, { rot: -90 })
label('Troponin (pg/mL)', 34.3, 760.7, 16, { rot: -90 })
label('LVEF (%)', 494, 745, 16, { rot: -90 })

label('ISO:', 74, 567.7, 16)
label('ISO:', 525, 559.3, 16)
label('ISO:', 76, 906, 16)
label('ISO:', 520.7, 906, 16)

label('< 0.0001', 175.7, 290.7, 16)
label('0.0040', 270.7, 290.7, 16)
label('< 0.0001', 615, 289, 16)
label('0.0262', 715, 289, 16)
label('0.0004', 267, 631.7, 16)
label('<0.0001', 660.7, 631.7, 16)
</script>
</body>
</html>
